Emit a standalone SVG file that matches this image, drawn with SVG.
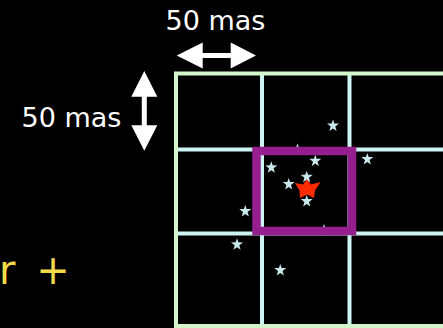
<svg xmlns="http://www.w3.org/2000/svg" width="443" height="328" viewBox="0 0 443 328">
<defs>
<style>
.lbl{font-family:"DejaVu Sans",sans-serif;font-size:27px;fill:#ffffff}
.yl{font-family:"DejaVu Sans",sans-serif;font-size:40px;fill:#f2da4a}
.frame{fill:none;stroke:#d4f5cc;stroke-width:4}
.grid{stroke:#cdf3f3;stroke-width:4}
.star{fill:#c8e8ec}
.arrow{fill:#ffffff}
</style>
<polygon id="s" points="0,-6 1.4,-2 6,-1.9 2.3,1 3.6,5.5 0,2.9 -3.6,5.5 -2.3,1 -6,-1.9 -1.4,-2"/>
</defs>
<rect width="443" height="328" fill="#000000"/>
<g id="grid">
<line class="grid" x1="176" y1="149.5" x2="443" y2="149.5"/>
<line class="grid" x1="176" y1="233.5" x2="443" y2="233.5"/>
<line class="grid" x1="262" y1="73.5" x2="262" y2="326"/>
<line class="grid" x1="349.5" y1="73.5" x2="349.5" y2="326"/>
<path class="frame" d="M445,73.5 H176 V326 H445"/>
</g>
<g id="stars" class="star">
<use href="#s" x="333" y="125.5"/>
<use href="#s" x="297.5" y="149.5"/>
<use href="#s" x="324" y="230"/>
<use href="#s" x="315.3" y="160.7"/>
<use href="#s" x="271.3" y="167.3"/>
<use href="#s" x="367.3" y="159"/>
<use href="#s" x="288.7" y="184"/>
<use href="#s" x="245.3" y="211"/>
<use href="#s" x="237" y="244.3"/>
<use href="#s" x="280.3" y="270"/>
</g>
<g id="box">
<rect x="256.5" y="151" width="95.5" height="80" fill="none" stroke="#951f8f" stroke-width="8.5"/>
</g>
<g id="target">
<polygon fill="#ff2a00" points="307,179 311,184.5 320.5,182 315,190.5 314,198 307,194.5 300,198 299.5,190.5 295,183 303,184.5"/>
<g class="star">
<use href="#s" x="306.7" y="176.7"/>
<use href="#s" x="306.7" y="201"/>
</g>
</g>
<g id="harrow">
<polygon class="arrow" points="176.7,55.5 202.7,42.5 202.7,53 230.7,53 230.7,42.5 256,55.5 230.7,68.5 230.7,58 202.7,58 202.7,68.5"/>
</g>
<g id="varrow">
<polygon class="arrow" points="144.3,71 157.3,96.7 146.8,96.7 146.8,125.3 157.3,125.3 144.3,150.7 131.3,125.3 141.8,125.3 141.8,96.7 131.3,96.7"/>
</g>
<text class="lbl" x="215.5" y="30" text-anchor="middle">50 mas</text>
<text class="lbl" x="71.5" y="126.7" text-anchor="middle">50 mas</text>
<text class="yl" x="-1" y="284">r <tspan dx="8">+</tspan></text>
</svg>
